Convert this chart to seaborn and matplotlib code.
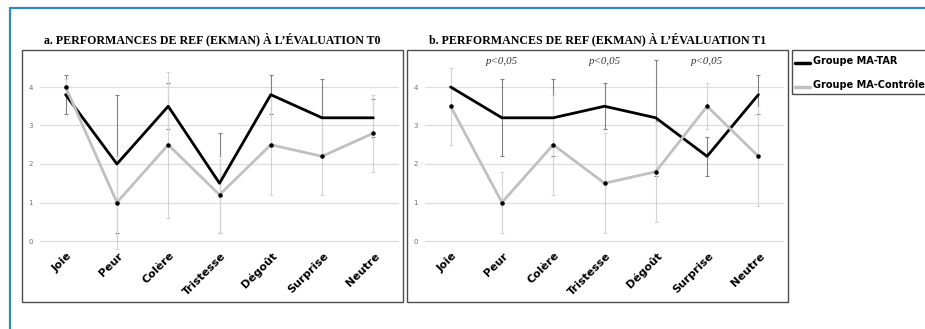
import numpy as np
import pandas as pd
import seaborn as sns
import matplotlib
matplotlib.use("Agg")
from matplotlib import pyplot as plt
from matplotlib.patches import Rectangle
from matplotlib.lines import Line2D
from matplotlib.transforms import ScaledTranslation

''' Données '''

emotions = ["Joie", "Peur", "Colère", "Tristesse", "Dégoût", "Surprise", "Neutre"]
groups = ["Groupe MA-TAR", "Groupe MA-Contrôle"]

tar_t0 = [3.8, 2.0, 3.5, 1.5, 3.8, 3.2, 3.2]
tar_t0_err = [0.5, 1.8, 0.6, 1.3, 0.5, 1.0, 0.5]
ctrl_t0 = [4.0, 1.0, 2.5, 1.2, 2.5, 2.2, 2.8]
ctrl_t0_err = [0.2, 1.2, 1.9, 1.0, 1.3, 1.0, 1.0]

tar_t1 = [4.0, 3.2, 3.2, 3.5, 3.2, 2.2, 3.8]
tar_t1_err = [0.0, 1.0, 1.0, 0.6, 1.5, 0.5, 0.5]
ctrl_t1 = [3.5, 1.0, 2.5, 1.5, 1.8, 3.5, 2.2]
ctrl_t1_err = [1.0, 0.8, 1.3, 1.3, 1.3, 0.6, 1.3]

signif_t1 = ["Peur", "Tristesse", "Surprise"]

titles = ["a. PERFORMANCES DE REF (EKMAN) À L’ÉVALUATION T0",
          "b. PERFORMANCES DE REF (EKMAN) À L’ÉVALUATION T1"]

colors = {"Groupe MA-TAR": "black", "Groupe MA-Contrôle": "#c0c0c0"}
err_colors = {"Groupe MA-TAR": "#808080", "Groupe MA-Contrôle": "#d4d4d4"}


def make_df(tar, tar_err, ctrl, ctrl_err):
    return pd.DataFrame({
        "emotion": emotions * 2,
        "group": [groups[0]] * 7 + [groups[1]] * 7,
        "score": tar + ctrl,
        "err": tar_err + ctrl_err,
    })


frames = [make_df(tar_t0, tar_t0_err, ctrl_t0, ctrl_t0_err),
          make_df(tar_t1, tar_t1_err, ctrl_t1, ctrl_t1_err)]

''' Figure '''

sns.set_style("white")
fig = plt.figure(figsize=(9.25, 3.29), dpi=100)

W, H = 925, 329


def fx(px):
    return px / W


def fy(py):
    return 1 - py / H


# cadre bleu
fig.add_artist(Line2D([fx(9.5), fx(9.5)], [0, fy(7.5)], color="#2e8bc0", lw=1.6))
fig.add_artist(Line2D([fx(9.5), 1], [fy(7.5), fy(7.5)], color="#2e8bc0", lw=1.6))

ax_left = [40, 425]
box_left = [22, 407]
title_x = [212, 598]

for i in range(2):
    df = frames[i]

    # boîte grise autour du panneau
    fig.add_artist(Rectangle((fx(box_left[i]), fy(302)), fx(381), 252 / H,
                             fill=False, edgecolor="#4d4d4d", lw=1.0))
    fig.text(fx(title_x[i]), fy(39.5), titles[i], ha="center", va="center",
             fontsize=8.6, fontweight="bold", family="Liberation Serif", color="black")

    y0, y1 = -0.3, 4.9
    top_px = 241 - y1 * 38.5
    bot_px = 241 - y0 * 38.5
    axs = fig.add_axes([fx(ax_left[i]), fy(bot_px), fx(359), (bot_px - top_px) / H])

    for g in groups:
        sub = df[df["group"] == g]
        axs.errorbar(sub["emotion"], sub["score"], yerr=sub["err"], fmt="none",
                     ecolor=err_colors[g], elinewidth=0.8, capsize=1.5,
                     capthick=0.8, zorder=2)

    sns.lineplot(data=df, x="emotion", y="score", hue="group", palette=colors,
                 sort=False, linewidth=2.0, legend=False, ax=axs, zorder=3)

    ctrl = df[df["group"] == groups[1]]
    axs.scatter(ctrl["emotion"], ctrl["score"], s=5, color="black", zorder=4)

    axs.set_xlim(-0.5, 6.5)
    axs.set_ylim(y0, y1)
    axs.set_yticks([0, 1, 2, 3, 4])
    axs.yaxis.grid(True, color="#dedede", lw=0.9)
    axs.xaxis.grid(False)
    for s in axs.spines.values():
        s.set_visible(False)
    axs.set_xlabel("")
    axs.set_ylabel("")
    axs.tick_params(axis="y", labelsize=5, labelcolor="#707070", length=0, pad=5)
    axs.tick_params(axis="x", length=0, pad=0)
    plt.setp(axs.get_xticklabels(), rotation=45, ha="right", rotation_mode="anchor",
             fontsize=8, fontweight="bold", family="DejaVu Sans", color="black")
    for lbl in axs.get_xticklabels():
        lbl.set_transform(lbl.get_transform() +
                          ScaledTranslation(0.01, 0.02, fig.dpi_scale_trans))

    if i == 1:
        for e in signif_t1:
            axs.text(e, 4.67, "p<0,05", ha="center", va="center", fontsize=7.8,
                     style="italic", family="Liberation Serif", color="#333333")

# légende
fig.add_artist(Rectangle((fx(792), fy(94)), fx(150), 44 / H, fill=False,
                         edgecolor="#4d4d4d", lw=1.0))
for k, g in enumerate(groups):
    yy = fy(61 + 24 * k)
    fig.add_artist(Line2D([fx(795), fx(810)], [yy - 0.006, yy - 0.006],
                          color=colors[g], lw=2.5))
    fig.text(fx(813), yy, g, ha="left", va="center", fontsize=7,
             fontweight="bold", family="DejaVu Sans", color="black")

fig.savefig("out.png", dpi=100)
